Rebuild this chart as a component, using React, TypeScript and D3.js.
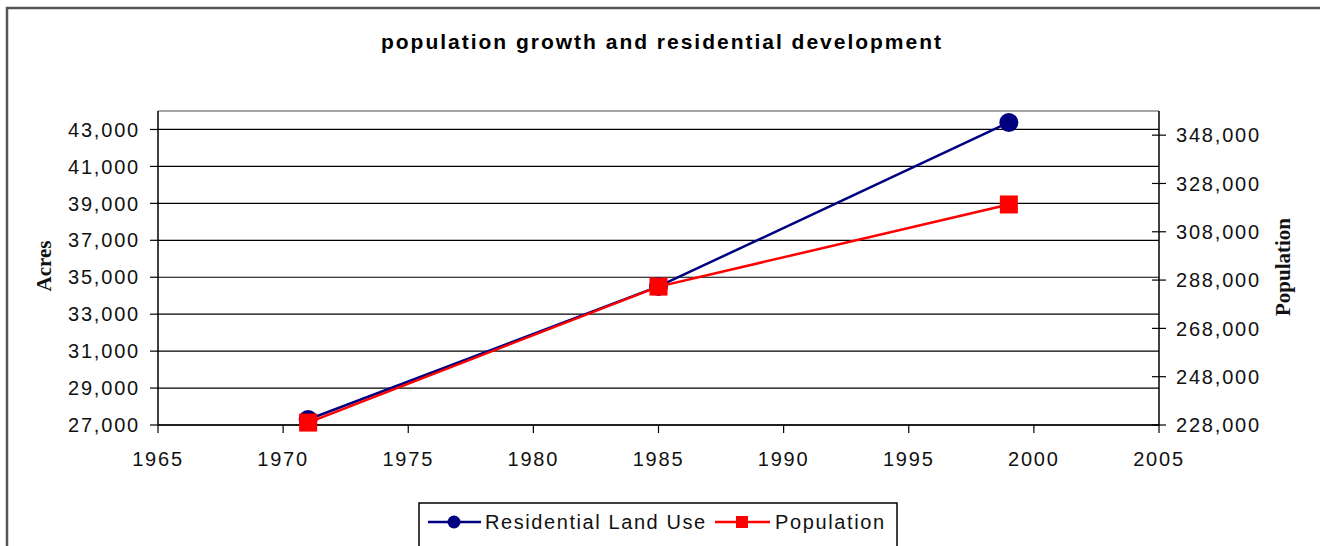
import React from "react";
import * as d3 from "d3";

const years = [1971, 1985, 1999];
const acres = [27300, 34500, 43380];
const population = [229000, 285300, 319300];

const xTicks = [1965, 1970, 1975, 1980, 1985, 1990, 1995, 2000, 2005];
const leftTicks = [27000, 29000, 31000, 33000, 35000, 37000, 39000, 41000, 43000];
const rightTicks = [228000, 248000, 268000, 288000, 308000, 328000, 348000];

const W = 1320;
const H = 546;
const L = 158, R = 1159, T = 111, B = 425;

export default function App() {
  const x = d3.scaleLinear().domain([1965, 2005]).range([L, R]);
  const yL = d3.scaleLinear().domain([27000, 44000]).range([B, T]);
  const yR = d3.scaleLinear().domain([228000, 358000]).range([B, T]);
  const fmt = d3.format(",");
  const lineL = d3.line<number>().x((_, i) => x(years[i])).y((d) => yL(d));
  const lineR = d3.line<number>().x((_, i) => x(years[i])).y((d) => yR(d));
  const sans = "'Liberation Sans', Arial, sans-serif";
  const serif = "'Liberation Serif', 'Times New Roman', serif";
  const tickFont = { fontFamily: sans, fontSize: 20, letterSpacing: 1.8, fill: "#111" } as any;

  return (
    <svg width={W} height={H} style={{ position: "absolute", left: 0, top: 0, background: "#fff" }}>
      <rect x={0} y={0} width={W} height={H} fill="#fff" />
      <rect x={7} y={8} width={W + 20} height={H + 20} fill="none" stroke="#555" strokeWidth={2.5} />
      <text x={661} y={49} textAnchor="middle" fontFamily={sans} fontWeight="bold" fontSize={21} textLength={560} lengthAdjust="spacing" fill="#000">
        population growth and residential development
      </text>

      {/* gridlines */}
      {leftTicks.map((v) => (
        <line key={"g" + v} x1={L} x2={R} y1={yL(v)} y2={yL(v)} stroke="#000" strokeWidth={1.2} />
      ))}
      <line x1={L} x2={R} y1={T} y2={T} stroke="#888" strokeWidth={1.5} />
      <line x1={L} x2={L} y1={T} y2={B} stroke="#000" strokeWidth={1.5} />
      <line x1={R} x2={R} y1={T} y2={B} stroke="#000" strokeWidth={1.5} />
      <line x1={L} x2={R} y1={B} y2={B} stroke="#000" strokeWidth={1.5} />

      {/* left axis */}
      {leftTicks.map((v) => (
        <g key={"l" + v}>
          <line x1={150} x2={L} y1={yL(v)} y2={yL(v)} stroke="#000" strokeWidth={1.2} />
          <text x={140} y={yL(v)} dy="0.36em" textAnchor="end" {...tickFont}>{fmt(v)}</text>
        </g>
      ))}
      {/* right axis */}
      {rightTicks.map((v) => (
        <g key={"r" + v}>
          <line x1={R - 7} x2={R + 7} y1={yR(v)} y2={yR(v)} stroke="#000" strokeWidth={1.2} />
          <text x={1176} y={yR(v)} dy="0.36em" textAnchor="start" {...tickFont}>{fmt(v)}</text>
        </g>
      ))}
      {/* x axis */}
      {xTicks.map((v) => (
        <g key={"x" + v}>
          <line x1={x(v)} x2={x(v)} y1={B} y2={B + 8} stroke="#000" strokeWidth={1.2} />
          <text x={x(v)} y={466} textAnchor="middle" {...tickFont}>{String(v)}</text>
        </g>
      ))}

      <text transform={`translate(51,266) rotate(-90)`} textAnchor="middle" fontFamily={serif} fontWeight="bold" fontSize={21} fill="#111">Acres</text>
      <text transform={`translate(1290,267) rotate(-90)`} textAnchor="middle" fontFamily={serif} fontWeight="bold" fontSize={21} fill="#111">Population</text>

      {/* series */}
      <path d={lineL(acres) || ""} fill="none" stroke="#000080" strokeWidth={2.5} />
      {acres.map((v, i) => (
        <circle key={"c" + i} cx={x(years[i])} cy={yL(v)} r={9.5} fill="#000080" />
      ))}
      <path d={lineR(population) || ""} fill="none" stroke="#ff0000" strokeWidth={2.5} />
      {population.map((v, i) => (
        <rect key={"s" + i} x={x(years[i]) - 9} y={yR(v) - 9} width={18} height={18} fill="#ff0000" />
      ))}

      {/* legend */}
      <rect x={419} y={503} width={478} height={60} fill="#fff" stroke="#000" strokeWidth={1.5} />
      <line x1={428} x2={481} y1={522} y2={522} stroke="#000080" strokeWidth={2.5} />
      <circle cx={454} cy={522} r={6.5} fill="#000080" />
      <text x={485} y={522} dy="0.36em" {...tickFont} textLength={222} lengthAdjust="spacing">Residential Land Use</text>
      <line x1={715} x2={770} y1={522} y2={522} stroke="#ff0000" strokeWidth={2.5} />
      <rect x={736} y={516} width={12} height={12} fill="#ff0000" />
      <text x={775} y={522} dy="0.36em" {...tickFont} textLength={111} lengthAdjust="spacing">Population</text>
    </svg>
  );
}
